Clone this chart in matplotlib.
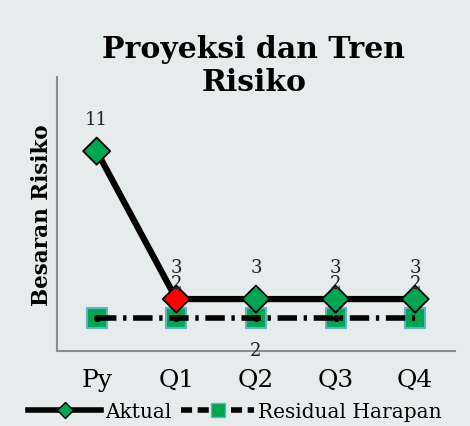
import numpy as np
import matplotlib.pyplot as plt
from matplotlib.lines import Line2D

categories = ['Py', 'Q1', 'Q2', 'Q3', 'Q4']
aktual = [11, 3, 3, 3, 3]
residual = [2, 2, 2, 2, 2]
aktual_labels = ['11', '3', '3', '3', '3']
residual_labels = ['', '2', '2', '2', '2']
residual_label_pos = ['', 'above', 'below', 'above', 'above']

bg = '#e6ebeb'
green = '#00a550'
teal = '#5fb4c4'

plt.rcParams['font.family'] = ['DejaVu Serif']

fig = plt.figure(figsize=(4.70, 4.27), dpi=100, facecolor=bg)
ax = fig.add_axes([0.121, 0.176, 0.847, 0.641], facecolor=bg)

x = np.arange(len(categories))

# residual line
ax.plot(x, residual, linestyle='None', marker='s', markersize=14.5,
        markerfacecolor=green, markeredgecolor=teal, markeredgewidth=1.5, zorder=3)
ax.plot(x, residual, color='black', linewidth=4,
        linestyle=(0, (3.5, 1.2, 0.6, 1.2)), zorder=4)
ax.plot(x[:4], residual[:4], linestyle='None', marker='o', markersize=4,
        color='black', zorder=5)

# aktual line
ax.plot(x, aktual, color='black', linewidth=4.5, zorder=6)
colors = ['red' if c == 'Q1' else green for c in categories]
ax.scatter(x, aktual, marker='D', s=190, c=colors, edgecolors='black',
           linewidths=1.3, zorder=7)

for xi, v, t in zip(x, aktual, aktual_labels):
    ax.annotate(t, (xi, v), xytext=(0, 32), textcoords='offset pixels',
                ha='center', va='center', fontsize=13, color='#222222', zorder=8)
for xi, v, t, p in zip(x, residual, residual_labels, residual_label_pos):
    if not t:
        continue
    dy = 35 if p == 'above' else -32
    ax.annotate(t, (xi, v), xytext=(0, dy), textcoords='offset pixels',
                ha='center', va='center', fontsize=13, color='#222222', zorder=8)

ax.set_xlim(-0.5, 4.5)
ax.set_ylim(0.2, 15)
ax.set_xticks(x)
ax.set_xticklabels(categories, fontsize=18)
ax.set_yticks([])
ax.tick_params(axis='x', length=0, pad=12)
for s in ['top', 'right']:
    ax.spines[s].set_visible(False)
for s in ['left', 'bottom']:
    ax.spines[s].set_color('#8c8c8c')
    ax.spines[s].set_linewidth(1.5)

ax.set_ylabel('Besaran Risiko', fontsize=15.5, fontweight='bold', labelpad=3)
fig.text(0.54, 0.845, 'Proyeksi dan Tren\nRisiko', ha='center', va='center',
         fontsize=21.5, fontweight='bold', linespacing=1.15)

handles = [
    Line2D([], [], color='black', linewidth=4, marker='D', markersize=8,
           markerfacecolor=green, markeredgecolor='black'),
    Line2D([], [], color='black', linewidth=4, linestyle=(0, (2, 1)),
           marker='s', markersize=10, markerfacecolor=green, markeredgecolor=teal),
]
fig.legend(handles, ['Aktual', 'Residual Harapan'], loc='center',
           bbox_to_anchor=(0.5, 0.035), ncol=2, frameon=False, fontsize=14.5,
           handlelength=3.6, handletextpad=0.2, columnspacing=0.5)

fig.savefig('out.png', dpi=100, facecolor=bg)
